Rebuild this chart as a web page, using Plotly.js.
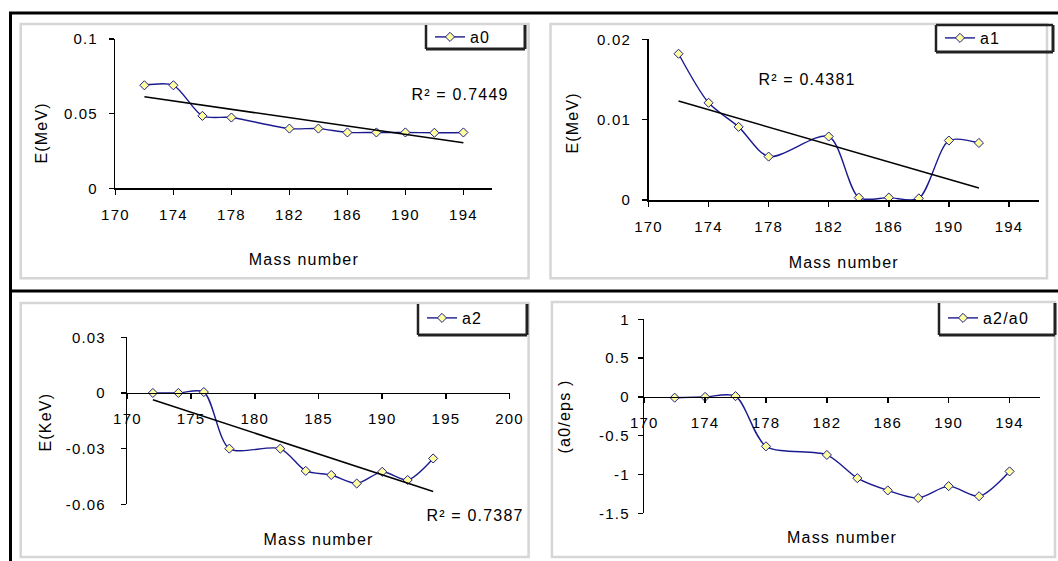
<!DOCTYPE html>
<html><head><meta charset="utf-8">
<script src="https://cdn.plot.ly/plotly-3.0.1.min.js"></script>
<style>
html,body{margin:0;padding:0;background:#fff;}
#chart{width:1058px;height:561px;}
#chart text{letter-spacing:1.2px;}
</style></head><body><div id="chart"></div>
<script>
// ---- data ----
const massA  = [172,174,176,178,182,184,186,188,190,192,194];
const massA1 = [172,174,176,178,182,184,186,188,190,192];
const a0   = [0.069,0.069,0.0485,0.0474,0.040,0.040,0.0374,0.0374,0.0374,0.0372,0.0374];
const a1   = [0.0182,0.0121,0.0091,0.0054,0.0079,0.0003,0.0003,0.0002,0.0074,0.0071];
const a2   = [0.0,0.0,0.0005,-0.030,-0.030,-0.042,-0.0442,-0.0488,-0.0425,-0.0469,-0.0353];
const a2a0 = [-0.01,0.0,0.01,-0.637,-0.748,-1.047,-1.205,-1.303,-1.15,-1.28,-0.96];
const r2Labels = ['R² = 0.7449','R² = 0.4381','R² = 0.7387'];
const seriesNames = ['a0','a1','a2','a2/a0'];
const xTitle = 'Mass number';
const yTitles = ['E(MeV)','E(MeV)','E(KeV)','(a0/eps )'];
const xTicks4 = [170,174,178,182,186,190,194];
const xTicks5 = [170,175,180,185,190,195,200];
const yTicks1 = [0,0.05,0.1],            yText1 = ['0','0.05','0.1'];
const yTicks2 = [0,0.01,0.02],           yText2 = ['0','0.01','0.02'];
const yTicks3 = [-0.06,-0.03,0,0.03],    yText3 = ['-0.06','-0.03','0','0.03'];
const yTicks4 = [-1.5,-1,-0.5,0,0.5,1],  yText4 = ['-1.5','-1','-0.5','0','0.5','1'];

// ---- helpers ----
const W=1058,H=561;
const px=x=>x/W, py=y=>1-y/H;
const FONT='"Liberation Sans", Arial, sans-serif';
const NAVY='#1b1b8f';
function linFit(xs,ys){
  const n=xs.length, mx=xs.reduce((a,b)=>a+b,0)/n, my=ys.reduce((a,b)=>a+b,0)/n;
  let sxy=0,sxx=0; for(let i=0;i<n;i++){sxy+=(xs[i]-mx)*(ys[i]-my);sxx+=(xs[i]-mx)**2;}
  const b=sxy/sxx, a=my-b*mx; const x0=Math.min(...xs), x1=Math.max(...xs);
  return {x:[x0,x1], y:[a+b*x0,a+b*x1]};
}
function series(xs,ys,name,xa,ya,leg){
  return {x:xs,y:ys,name:name,xaxis:xa,yaxis:ya,legend:leg,type:'scatter',mode:'lines+markers',
    line:{color:NAVY,width:1.4,shape:'spline',smoothing:0.8},
    marker:{symbol:'diamond',size:7,color:'#ffffa0',line:{color:NAVY,width:1}},
    hoverinfo:'skip'};
}
function trend(xs,ys,xa,ya){
  const f=linFit(xs,ys);
  return {x:f.x,y:f.y,xaxis:xa,yaxis:ya,type:'scatter',mode:'lines',showlegend:false,
    line:{color:'#000',width:1.5},hoverinfo:'skip'};
}
const tf={family:FONT,size:15,color:'#000'};
function xax(dom,range,ticks,anchor,standoff,extra){
  return Object.assign({domain:dom,range:range,anchor:anchor,tickmode:'array',tickvals:ticks,ticktext:ticks.map(String),
    showgrid:false,zeroline:false,showline:true,linecolor:'#000',linewidth:1.5,ticks:'outside',ticklen:5,tickwidth:1.5,
    tickcolor:'#000',tickfont:tf,ticklabelstandoff:7,
    title:{text:xTitle,font:{family:FONT,size:16,color:'#000'},standoff:standoff}},extra||{});
}
function yax(dom,range,ticks,text,anchor,lstand){
  return {domain:dom,range:range,anchor:anchor,tickmode:'array',tickvals:ticks,ticktext:text,
    showgrid:false,zeroline:false,showline:true,linecolor:'#000',linewidth:1.5,ticks:'outside',ticklen:5,tickwidth:1.5,
    tickcolor:'#000',tickfont:tf,ticklabelstandoff:lstand};
}
function zeroPos(dom,range){return dom[0]+(0-range[0])/(range[1]-range[0])*(dom[1]-dom[0]);}

// ---- domains (layout) ----
const d1x=[px(115.4),px(492.4)], d1y=[py(188.3),py(39)];
const d2x=[px(648.5),px(1039)],  d2y=[py(200),py(39.3)];
const d3x=[px(127.4),px(509.6)], d3y=[py(504.3),py(337.3)];
const d4x=[px(644.2),px(1040)],  d4y=[py(513.3),py(319.3)];
const r3=[-0.06,0.03], r4=[-1.5,1];

const data=[
  series(massA,a0,seriesNames[0],'x','y','legend'),   trend(massA,a0,'x','y'),
  series(massA1,a1,seriesNames[1],'x2','y2','legend2'),trend(massA1,a1,'x2','y2'),
  series(massA,a2,seriesNames[2],'x3','y3','legend3'), trend(massA,a2,'x3','y3'),
  series(massA,a2a0,seriesNames[3],'x4','y4','legend4')
];

function legBox(x0,x1,y0,y1,top){
  const s=[];
  const L={color:'#222',width:2.5};
  s.push({type:'line',xref:'paper',yref:'paper',x0:px(x0),x1:px(x0),y0:py(y0),y1:py(y1),line:L});
  s.push({type:'line',xref:'paper',yref:'paper',x0:px(x1),x1:px(x1),y0:py(y0),y1:py(y1),line:{color:'#222',width:3}});
  s.push({type:'line',xref:'paper',yref:'paper',x0:px(x0),x1:px(x1),y0:py(y1),y1:py(y1),line:{color:'#222',width:3}});
  if(top) s.push({type:'line',xref:'paper',yref:'paper',x0:px(x0),x1:px(x1),y0:py(y0),y1:py(y0),line:L});
  return s;
}
function panel(x0,x1,y0,y1){
  return {type:'rect',xref:'paper',yref:'paper',x0:px(x0),x1:px(x1),y0:py(y1),y1:py(y0),
    line:{color:'#d6d6d6',width:2.5},layer:'below'};
}
const shapes=[
  panel(20.7,528.6,24,278.3), panel(550.5,1047,24,278.3),
  panel(20.7,528.6,303,557),  panel(551.9,1055,302,557),
  {type:'line',xref:'paper',yref:'paper',x0:px(9),x1:1,y0:py(13),y1:py(13),line:{color:'#000',width:3}},
  {type:'line',xref:'paper',yref:'paper',x0:px(10.5),x1:px(10.5),y0:py(12),y1:0,line:{color:'#000',width:3}},
  {type:'line',xref:'paper',yref:'paper',x0:px(9),x1:1,y0:py(291),y1:py(291),line:{color:'#000',width:3}},
  ...legBox(426,525,25,49,false),
  ...legBox(936,1053,25,52,true),
  ...legBox(418,527,304,335,false),
  ...legBox(939,1055,303,335,false)
];
function leg(xl,yc){
  return {x:px(xl),y:py(yc),xanchor:'left',yanchor:'middle',bgcolor:'rgba(0,0,0,0)',borderwidth:0,
    font:{family:FONT,size:16,color:'#000'},itemclick:false,itemdoubleclick:false};
}
const ann=(t,x,y,rot)=>({text:t,xref:'paper',yref:'paper',x:px(x),y:py(y),showarrow:false,
  textangle:rot||0,xanchor:'center',yanchor:'middle',font:{family:FONT,size:16,color:'#000'}});

const layout={
  width:W,height:H,margin:{l:0,r:0,t:0,b:0},paper_bgcolor:'#fff',plot_bgcolor:'rgba(0,0,0,0)',
  showlegend:true,
  xaxis: xax(d1x,[170,196],xTicks4,'y',32),
  yaxis: yax(d1y,[0,0.1],yTicks1,yText1,'x',8),
  xaxis2:xax(d2x,[170,196],xTicks4,'y2',23),
  yaxis2:yax(d2y,[0,0.02],yTicks2,yText2,'x2',8),
  xaxis3:xax(d3x,[170,200],xTicks5,'free',107,{position:zeroPos(d3y,r3)}),
  yaxis3:yax(d3y,r3,yTicks3,yText3,'x3',12),
  xaxis4:xax(d4x,[170,196],xTicks4,'free',101,{position:zeroPos(d4y,r4)}),
  yaxis4:yax(d4y,r4,yTicks4,yText4,'x4',5),
  legend: leg(430,37), legend2:leg(940,38), legend3:leg(422,318), legend4:leg(943,318),
  shapes:shapes,
  annotations:[
    ann(r2Labels[0],460,95),ann(r2Labels[1],807,79),ann(r2Labels[2],475,515),
    ann(yTitles[0],41,133,-90),ann(yTitles[1],572,123,-90),
    ann(yTitles[2],45,422,-90),ann(yTitles[3],564,417,-90)
  ]
};
Plotly.newPlot('chart',data,layout,{staticPlot:true,displayModeBar:false});
</script></body></html>
